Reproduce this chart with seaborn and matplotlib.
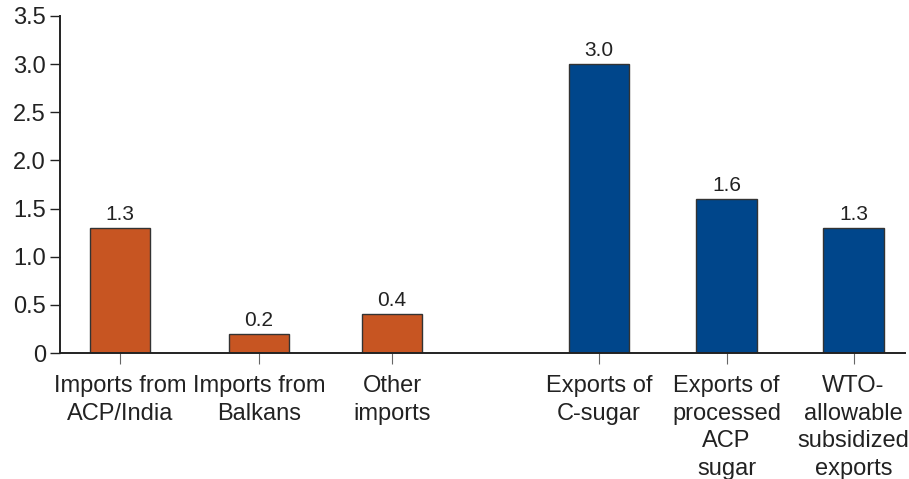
import matplotlib
matplotlib.use("Agg")
import matplotlib.pyplot as plt
import seaborn as sns
import pandas as pd

# Sugar flows (million tonnes)
categories = [
    "Imports from\nACP/India",
    "Imports from\nBalkans",
    "Other\nimports",
    "Exports of\nC-sugar",
    "Exports of\nprocessed\nACP\nsugar",
    "WTO-\nallowable\nsubsidized\nexports",
]
values = [1.3, 0.2, 0.4, 3.0, 1.6, 1.3]
groups = ["Imports", "Imports", "Imports", "Exports", "Exports", "Exports"]
y_ticks = [0, 0.5, 1.0, 1.5, 2.0, 2.5, 3.0, 3.5]
y_tick_labels = ["0", "0.5", "1.0", "1.5", "2.0", "2.5", "3.0", "3.5"]

# Slot positions along the x axis (imports and exports separated by a gap)
slots = [0.0, 1.045, 2.045, 3.6, 4.56, 5.515]
bar_w = 0.455

sns.set_theme(style="white")
plt.rcParams["font.family"] = ["Liberation Sans", "DejaVu Sans"]
text_color = "#222222"

df = pd.DataFrame({"slot": slots, "value": values, "group": groups})
palette = {"Imports": "#C75522", "Exports": "#00468B"}

fig = plt.figure(figsize=(9.09, 4.79), dpi=100)
ax = fig.add_axes([60 / 909, (479 - 353) / 479, (905 - 60) / 909, (353 - 16) / 479])

min_gap = min(b - a for a, b in zip(slots[:-1], slots[1:]))
sns.barplot(
    data=df, x="slot", y="value", hue="group", palette=palette,
    native_scale=True, width=bar_w / min_gap, dodge=False, saturation=1,
    edgecolor="#333333", linewidth=1.0, legend=False, ax=ax,
)

for cont in ax.containers:
    ax.bar_label(cont, fmt="%.1f", padding=3, fontsize=15, color=text_color)

ax.set_xlim(-0.451, 5.902)
ax.set_ylim(0, 3.5)
ax.set_yticks(y_ticks)
ax.set_yticklabels(y_tick_labels)
ax.set_xticks(slots)
ax.set_xticklabels(categories, linespacing=1.32)
ax.set_xlabel("")
ax.set_ylabel("")

for side in ["top", "right"]:
    ax.spines[side].set_visible(False)
for side in ["left", "bottom"]:
    ax.spines[side].set_color("#222222")
    ax.spines[side].set_linewidth(1.4)

ax.tick_params(axis="y", direction="out", length=7, width=1, color="#222222",
               labelsize=17, labelcolor=text_color, pad=3, left=True)
ax.tick_params(axis="x", direction="out", length=8, width=0.8, color="#666666",
               labelsize=17, labelcolor=text_color, pad=8, bottom=True)

fig.savefig("out.png", dpi=100, facecolor="white")
